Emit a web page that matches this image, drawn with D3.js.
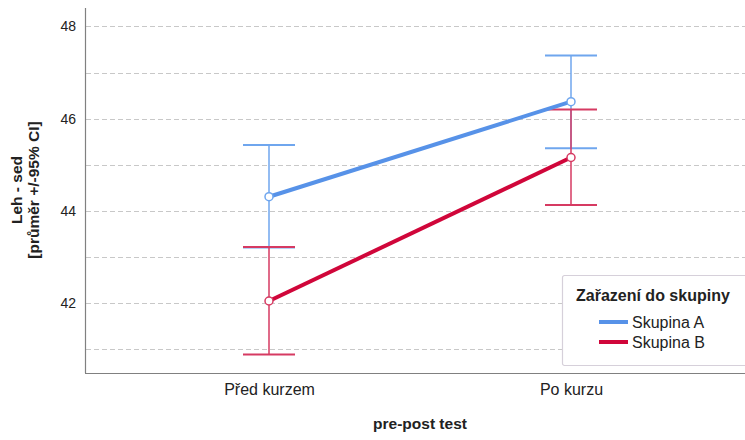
<!DOCTYPE html>
<html>
<head>
<meta charset="utf-8">
<script src="https://cdn.jsdelivr.net/npm/d3@7"></script>
<style>
  body { margin: 0; background: #fff; }
  text { font-family: "Liberation Sans", Arial, sans-serif; fill: #222; }
</style>
</head>
<body>
<div id="chart"></div>
<script>
var categories = ["Před kurzem", "Po kurzu"];
var groups = ["Skupina A", "Skupina B"];
var meanA = [44.31, 46.37];
var lowA = [43.21, 45.36];
var highA = [45.43, 47.37];
var meanB = [42.05, 45.16];
var lowB = [40.89, 44.13];
var highB = [43.22, 46.20];
var yTicks = [42, 44, 46, 48];
var yGrid = [41, 42, 43, 44, 45, 46, 47, 48];

var width = 745, height = 440,
    margin = {top: 8, right: 0, bottom: 67, left: 85},
    w = width - margin.left - margin.right,
    h = height - margin.top - margin.bottom;

var svg = d3.select("#chart").append("svg")
    .attr("width", width)
    .attr("height", height);
var g = svg.append("g").attr("transform", "translate(" + margin.left + "," + margin.top + ")");

var x = d3.scalePoint().domain(categories).range([184, 486]);
var y = d3.scaleLinear().domain([40.49, 48.4]).range([h, 0]);

var series = [
  {name: groups[0], mean: meanA, low: lowA, high: highA, color: "#5792e8", bar: "#6fa6ee"},
  {name: groups[1], mean: meanB, low: lowB, high: highB, color: "#d0063a", bar: "#d63a62"}
];

// grid
g.selectAll(".grid").data(yGrid).enter().append("line")
    .attr("x1", 1).attr("x2", w)
    .attr("y1", function(d) { return Math.round(y(d)) + 0.5; })
    .attr("y2", function(d) { return Math.round(y(d)) + 0.5; })
    .attr("stroke", "#c8c8c8")
    .attr("stroke-dasharray", "5,3");

// y axis
var yAxis = g.append("g").call(d3.axisLeft(y).tickValues(yTicks).tickSize(0).tickPadding(9).tickFormat(d3.format("d")));
yAxis.select(".domain").remove();
yAxis.selectAll("text").attr("font-size", 14).style("font-family", "Liberation Sans, Arial, sans-serif").attr("fill", "#222");
g.append("line").attr("x1", 0.5).attr("x2", 0.5).attr("y1", 0).attr("y2", h)
    .attr("stroke", "#808080").attr("stroke-width", 1.2);

// x axis
var xAxis = g.append("g").attr("transform", "translate(0," + h + ")")
    .call(d3.axisBottom(x).tickSize(0).tickPadding(11));
xAxis.select(".domain").remove();
xAxis.selectAll("text").attr("font-size", 16).style("font-family", "Liberation Sans, Arial, sans-serif").attr("fill", "#222");
g.append("line").attr("x1", 0).attr("x2", w).attr("y1", h + 0.5).attr("y2", h + 0.5)
    .attr("stroke", "#808080").attr("stroke-width", 1.2);

// axis titles
g.append("text")
    .attr("x", w / 2 + 5).attr("y", h + 56)
    .attr("text-anchor", "middle")
    .attr("font-size", 15.5).attr("font-weight", "bold")
    .text("pre-post test");

var yt = svg.append("text")
    .attr("transform", "translate(22,190) rotate(-90)")
    .attr("text-anchor", "middle")
    .attr("font-size", 15.5).attr("font-weight", "bold");
yt.append("tspan").attr("x", 0).attr("dy", 0).text("Leh - sed");
yt.append("tspan").attr("x", 0).attr("dy", 17).text("[průměr +/-95% CI]");

// error bars
series.forEach(function(s) {
  var eb = g.append("g");
  categories.forEach(function(c, i) {
    var cx = x(c);
    eb.append("line").attr("x1", cx).attr("x2", cx)
        .attr("y1", y(s.low[i])).attr("y2", y(s.high[i]))
        .attr("stroke", s.bar).attr("stroke-width", 1.5);
    [s.low[i], s.high[i]].forEach(function(v) {
      eb.append("line").attr("x1", cx - 26).attr("x2", cx + 26)
          .attr("y1", y(v)).attr("y2", y(v))
          .attr("stroke", s.bar).attr("stroke-width", 2);
    });
  });
});

// lines + markers
var line = d3.line()
    .x(function(d, i) { return x(categories[i]); })
    .y(function(d) { return y(d); });

series.forEach(function(s) {
  g.append("path")
      .datum(s.mean)
      .attr("fill", "none")
      .attr("stroke", s.color)
      .attr("stroke-width", 4)
      .attr("d", line);
  g.selectAll(null).data(s.mean).enter().append("circle")
      .attr("cx", function(d, i) { return x(categories[i]); })
      .attr("cy", function(d) { return y(d); })
      .attr("r", 4)
      .attr("fill", "#fff")
      .attr("stroke", s.bar)
      .attr("stroke-width", 1.5);
});

// legend
var lg = svg.append("g").attr("transform", "translate(562,275)");
lg.append("rect")
    .attr("x", 0.5).attr("y", 0.5).attr("width", 190).attr("height", 90)
    .attr("rx", 2)
    .attr("fill", "#fff").attr("stroke", "#d6d0da").attr("stroke-width", 1.2);
lg.append("text").attr("x", 14).attr("y", 26)
    .attr("font-size", 16).attr("font-weight", "bold")
    .text("Zařazení do skupiny");
series.forEach(function(s, i) {
  var ly = 47 + i * 20;
  lg.append("line").attr("x1", 37).attr("x2", 66).attr("y1", ly).attr("y2", ly)
      .attr("stroke", s.color).attr("stroke-width", 4);
  lg.append("text").attr("x", 70).attr("y", ly + 6)
      .attr("font-size", 16).text(s.name);
});
</script>
</body>
</html>
